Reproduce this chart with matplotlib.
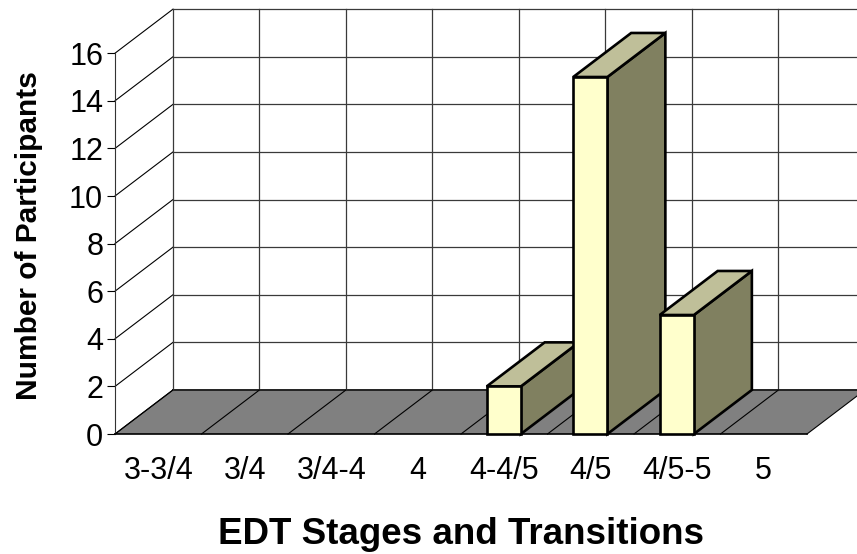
import matplotlib
matplotlib.use("Agg")
import matplotlib.pyplot as plt

plt.rcParams["font.family"] = ["Liberation Sans", "DejaVu Sans"]

# data
stages = ["3-3/4", "3/4", "3/4-4", "4", "4-4/5", "4/5", "4/5-5", "5"]
counts = [0, 0, 0, 0, 2, 15, 5, 0]
yticks = [0, 2, 4, 6, 8, 10, 12, 14, 16]

# fake 3D depth, in data units
depth_x = 0.67
depth_y = 1.85
bar_w = 0.395

W, H = 857, 554
x0_px, y0_px = 115, 434      # origin of the front corner
px_x, px_y = 86.5, 23.8      # pixels per category / per unit

fig = plt.figure(figsize=(W / 100, H / 100), dpi=100)
ax = fig.add_axes([0, 0, 1, 1])
ax.set_xlim(-x0_px / px_x, (W - x0_px) / px_x)
ax.set_ylim((y0_px - H) / px_y, y0_px / px_y)
ax.patch.set_visible(False)

n = len(stages)
grid = "#3a3a3a"

# floor
ax.fill([0, n, n + depth_x, depth_x], [0, 0, depth_y, depth_y], color="#808080", lw=0, zorder=1)
ax.plot([depth_x, n + depth_x], [depth_y, depth_y], color="#222222", lw=1.4, zorder=2)

# walls
for v in yticks:
    ax.plot([0, depth_x], [v, v + depth_y], color="black", lw=0.8, zorder=2)
    if v > 0:
        ax.plot([depth_x, n + depth_x], [v + depth_y, v + depth_y], color=grid, lw=0.9, zorder=2)
for i in range(n + 1):
    ax.plot([i + depth_x, i + depth_x], [depth_y, 16 + depth_y], color=grid, lw=0.9, zorder=2)
    ax.plot([i, i + depth_x], [0, depth_y], color="black", lw=0.8, zorder=2)

# bars, left to right so each covers the previous one
for i, c in enumerate(counts):
    if c == 0:
        continue
    xc = i + 0.5 - 0.005
    l, r = xc - bar_w / 2, xc + bar_w / 2
    z = 3 + i
    ax.fill([r, r + depth_x, r + depth_x, r], [0, depth_y, c + depth_y, c],
            facecolor="#808060", edgecolor="black", lw=1.9, zorder=z, joinstyle="miter")
    ax.fill([l, r, r + depth_x, l + depth_x], [c, c, c + depth_y, c + depth_y],
            facecolor="#BFBF99", edgecolor="black", lw=1.9, zorder=z, joinstyle="miter")
    ax.bar(xc, c, bar_w, facecolor="#FFFFCC", edgecolor="black", lw=1.9, zorder=z)

# axes
for s in ["top", "right"]:
    ax.spines[s].set_visible(False)
ax.spines["left"].set_position(("data", 0))
ax.spines["left"].set_bounds(0, 16)
ax.spines["left"].set_color("#333333")
ax.spines["bottom"].set_position(("data", 0))
ax.spines["bottom"].set_bounds(0, n)
ax.spines["bottom"].set_linewidth(1.2)
ax.spines["left"].set_zorder(2)
ax.spines["bottom"].set_zorder(2)

ax.set_yticks(yticks)
ax.tick_params(axis="y", labelsize=22, length=5.5, width=0.8, pad=3)
ax.set_xticks([i + 0.5 for i in range(n)])
ax.set_xticklabels(stages)
ax.tick_params(axis="x", labelsize=22, length=0, pad=16)

ax.set_xlabel("EDT Stages and Transitions", fontsize=26.5, fontweight="bold")
ax.xaxis.set_label_coords(461 / W, 1 - 535 / H)
ax.set_ylabel("Number of Participants", fontsize=21.5, fontweight="bold")
ax.yaxis.set_label_coords(29 / W, 1 - 236 / H)
ax.xaxis.label.set_verticalalignment("center")
ax.yaxis.label.set_verticalalignment("center")

fig.savefig("out.png", dpi=100)
